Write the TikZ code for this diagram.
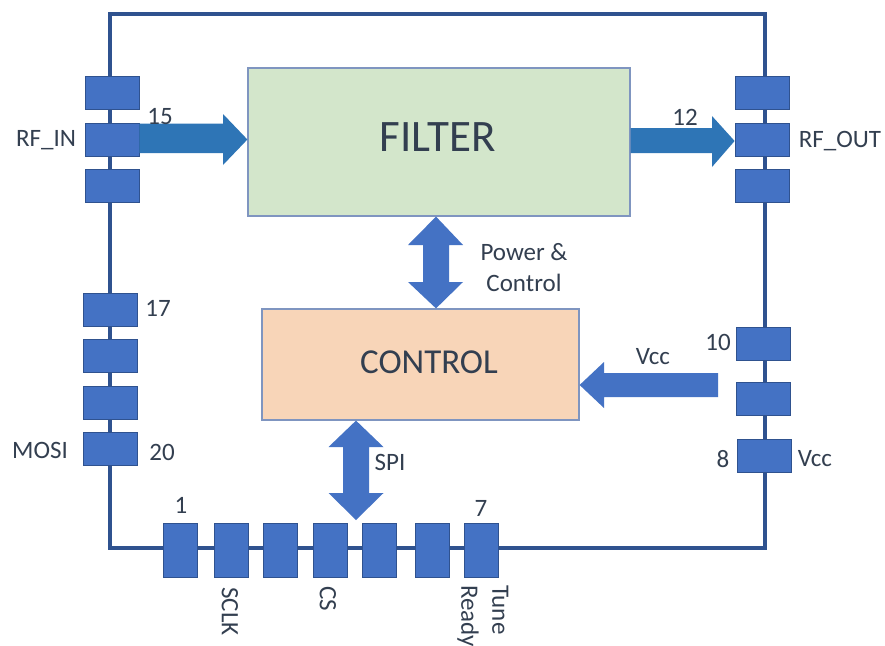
\documentclass[tikz,border=0pt]{standalone}
\usepackage{fontspec}
\setmainfont{Carlito}
\usetikzlibrary{calc}
\definecolor{frameblue}{HTML}{2F528F}
\definecolor{pinblue}{HTML}{4472C4}
\definecolor{rfblue}{HTML}{2E75B6}
\definecolor{txt}{HTML}{333F50}
\definecolor{filterfill}{HTML}{D3E6CB}
\definecolor{ctrlfill}{HTML}{F8D5B8}
\definecolor{boxline}{HTML}{7F95C0}
\begin{document}
\begin{tikzpicture}[x=1pt,y=-1pt,
  frame/.style={draw=frameblue,line width=4pt},
  pinv/.style={draw=frameblue,line width=0.8pt,fill=pinblue,inner sep=0pt,minimum width=54pt,minimum height=33pt},
  pinh/.style={draw=frameblue,line width=0.8pt,fill=pinblue,inner sep=0pt,minimum width=34pt,minimum height=54pt},
  blockbox/.style={draw=boxline,line width=1.2pt,inner sep=0pt},
  lbl/.style={text=txt,inner sep=0pt,font=\fontsize{25}{31}\selectfont},
  rfarrow/.style={fill=rfblue},
  bluearrow/.style={fill=pinblue}]
\useasboundingbox (0,0) rectangle (885,645);
\fill[white] (0,0) rectangle (885,645);

% package outline
\draw[frame] (110,14) rectangle (765,548);

% left pins
\node[pinv] (l1) at (112,92.5) {};
\node[pinv] (l2) at (112,140) {};
\node[pinv] (l3) at (112,186) {};
\node[pinv] (l4) at (110,309.5) {};
\node[pinv] (l5) at (110,355.5) {};
\node[pinv] (l6) at (110,402.5) {};
\node[pinv] (l7) at (110,448.5) {};

% right pins
\node[pinv] (r1) at (762,92.5) {};
\node[pinv] (r2) at (762,140) {};
\node[pinv] (r3) at (762,186) {};
\node[pinv] (r4) at (763,344) {};
\node[pinv] (r5) at (763,399) {};
\node[pinv] (r6) at (764.5,455.5) {};

% bottom pins
\foreach \i/\x in {1/180,2/231,3/280,4/330,5/379,6/432,7/481}
  \node[pinh] (b\i) at (\x,550.5) {};

% functional blocks
\node[blockbox,fill=filterfill,minimum width=382pt,minimum height=148pt] (filter) at (439,142) {};
\node[lbl,font=\fontsize{45}{52}\selectfont] at (437.5,137) {FILTER};
\node[blockbox,fill=ctrlfill,minimum width=317pt,minimum height=111pt] (control) at (420.5,364.5) {};
\node[lbl,font=\fontsize{35}{42}\selectfont] at (429,362) {CONTROL};

% RF arrows
\fill[rfarrow] (l2.east |- 0,123.5) -- (223,123.5) -- (223,114) -- (filter.west |- 0,139.5)
  -- (223,165) -- (223,153) -- (l2.east |- 0,153) -- cycle;
\fill[rfarrow] (filter.east |- 0,128) -- (712,128) -- (712,116) -- (r2.west |- 0,141)
  -- (712,167) -- (712,153) -- (filter.east |- 0,153) -- cycle;

% supply arrow into control
\fill[bluearrow] (718,373) -- (604,373) -- (604,362) -- (control.east |- 0,385)
  -- (604,408) -- (604,397) -- (718,397) -- cycle;

% power & control link
\fill[bluearrow] (filter.south -| 436,0) -- (463,245) -- (449,245) -- (449,282) -- (463,282)
  -- (control.north -| 436,0) -- (408,282) -- (423,282) -- (423,245) -- (408,245) -- cycle;

% SPI link
\fill[bluearrow] (control.south -| 356,0) -- (383.5,447) -- (369,447) -- (369,493) -- (383.5,493)
  -- (356,520) -- (328.5,493) -- (343,493) -- (343,447) -- (328.5,447) -- cycle;

% labels
\node[lbl] at (160,117) {15};
\node[lbl] at (685,117) {12};
\node[lbl] at (46,140) {RF\_IN};
\node[lbl] at (840,141) {RF\_OUT};
\node[lbl] at (158,308) {17};
\node[lbl] at (40,450) {MOSI};
\node[lbl] at (162,452) {20};
\node[lbl] at (718,342) {10};
\node[lbl] at (723,459) {8};
\node[lbl] at (815,459) {Vcc};
\node[lbl] at (653,357) {Vcc};
\node[lbl,align=center] at (524,267.5) {Power \&\\Control};
\node[lbl] at (390,462) {SPI};
\node[lbl] at (181,505) {1};
\node[lbl] at (481,508) {7};
\node[lbl,rotate=-90,anchor=west] at (230,587) {SCLK};
\node[lbl,rotate=-90,anchor=west] at (328,586) {CS};
\node[lbl,rotate=-90,anchor=north west,align=left] at (508.5,585) {Tune\\Ready};
\end{tikzpicture}
\end{document}
